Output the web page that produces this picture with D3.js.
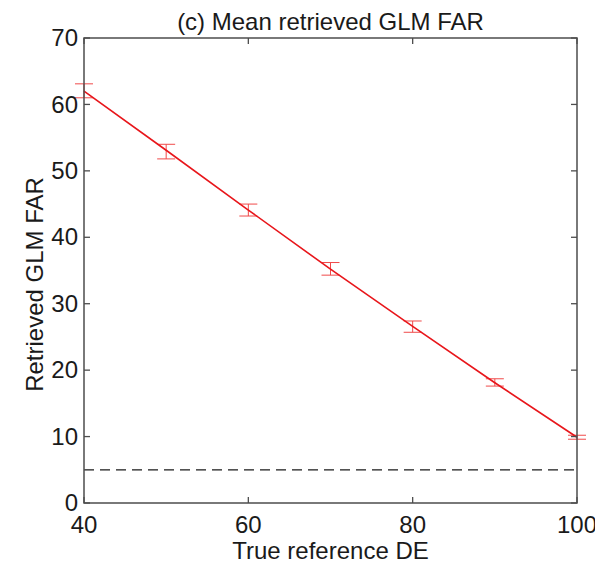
<!DOCTYPE html>
<html>
<head>
<meta charset="utf-8">
<script src="https://cdn.jsdelivr.net/npm/d3@7"></script>
<style>
  body { margin: 0; background: #fff; }
  text { font-family: "Liberation Sans", Arial, Helvetica, sans-serif; fill: #1a1a1a; }
</style>
</head>
<body>
<div id="chart"></div>
<script>
// values
var de = [40, 50, 60, 70, 80, 90, 100];
var farMean = [62.0, 53.1, 44.1, 35.2, 26.6, 18.1, 9.9];
var farLow = [61.0, 51.8, 43.2, 34.3, 25.7, 17.6, 9.6];
var farHigh = [63.1, 54.0, 45.0, 36.2, 27.4, 18.7, 10.2];
var refLine = 5;
var xTicks = [40, 60, 80, 100];
var yTicks = [0, 10, 20, 30, 40, 50, 60, 70];

var W = 595, H = 563;
var margin = {top: 38, right: 18, bottom: 60, left: 84};
var width = W - margin.left - margin.right,
    height = H - margin.top - margin.bottom;

var svg = d3.select("#chart").append("svg")
    .attr("width", W).attr("height", H);
var g = svg.append("g")
    .attr("transform", "translate(" + margin.left + "," + margin.top + ")");

var x = d3.scaleLinear().domain([40, 100]).range([0, width]);
var y = d3.scaleLinear().domain([0, 70]).range([height, 0]);

var axisColor = "#4d4d4d";
var tk = 6;

// dashed reference
g.append("line")
    .attr("x1", 0).attr("x2", width)
    .attr("y1", y(refLine)).attr("y2", y(refLine))
    .attr("stroke", "#1a1a1a").attr("stroke-width", 1.3)
    .attr("stroke-dasharray", "10,6");

// error bars
var capW = 9;
var eb = g.append("g").attr("stroke", "#f04a4a").attr("stroke-width", 1).attr("fill", "none");
de.forEach(function(d, i) {
  var cx = x(d);
  eb.append("line").attr("x1", cx).attr("x2", cx).attr("y1", y(farLow[i])).attr("y2", y(farHigh[i]));
  eb.append("line").attr("x1", cx - capW).attr("x2", cx + capW).attr("y1", y(farLow[i])).attr("y2", y(farLow[i]));
  eb.append("line").attr("x1", cx - capW).attr("x2", cx + capW).attr("y1", y(farHigh[i])).attr("y2", y(farHigh[i]));
});

// mean line
var line = d3.line().x(function(d, i) { return x(de[i]); }).y(function(d) { return y(d); });
g.append("path").datum(farMean)
    .attr("d", line)
    .attr("fill", "none")
    .attr("stroke", "#e8161b")
    .attr("stroke-width", 1.6);

// box
g.append("rect").attr("width", width).attr("height", height)
    .attr("fill", "none").attr("stroke", axisColor).attr("stroke-width", 1.5);

// ticks (inside, all sides)
var tg = g.append("g").attr("stroke", axisColor).attr("stroke-width", 1.3);
xTicks.forEach(function(t) {
  tg.append("line").attr("x1", x(t)).attr("x2", x(t)).attr("y1", height).attr("y2", height - tk);
  tg.append("line").attr("x1", x(t)).attr("x2", x(t)).attr("y1", 0).attr("y2", tk);
});
yTicks.forEach(function(t) {
  tg.append("line").attr("x1", 0).attr("x2", tk).attr("y1", y(t)).attr("y2", y(t));
  tg.append("line").attr("x1", width).attr("x2", width - tk).attr("y1", y(t)).attr("y2", y(t));
});

// tick labels
g.selectAll(".xl").data(xTicks).enter().append("text")
    .attr("x", function(d) { return x(d); })
    .attr("y", height + 30)
    .attr("text-anchor", "middle")
    .style("font-size", "24px")
    .text(function(d) { return d; });
g.selectAll(".yl").data(yTicks).enter().append("text")
    .attr("x", -6)
    .attr("y", function(d) { return y(d); })
    .attr("dy", "0.34em")
    .attr("text-anchor", "end")
    .style("font-size", "24px")
    .text(function(d) { return d; });

// titles
g.append("text")
    .attr("x", width / 2).attr("y", -8)
    .attr("text-anchor", "middle")
    .style("font-size", "24px")
    .text("(c) Mean retrieved GLM FAR");
g.append("text")
    .attr("x", width / 2).attr("y", height + 56)
    .attr("text-anchor", "middle")
    .style("font-size", "24px")
    .text("True reference DE");
g.append("text")
    .attr("transform", "translate(" + (-41) + "," + (height / 2 + 14) + ") rotate(-90)")
    .attr("text-anchor", "middle")
    .style("font-size", "24px")
    .text("Retrieved GLM FAR");
</script>
</body>
</html>
